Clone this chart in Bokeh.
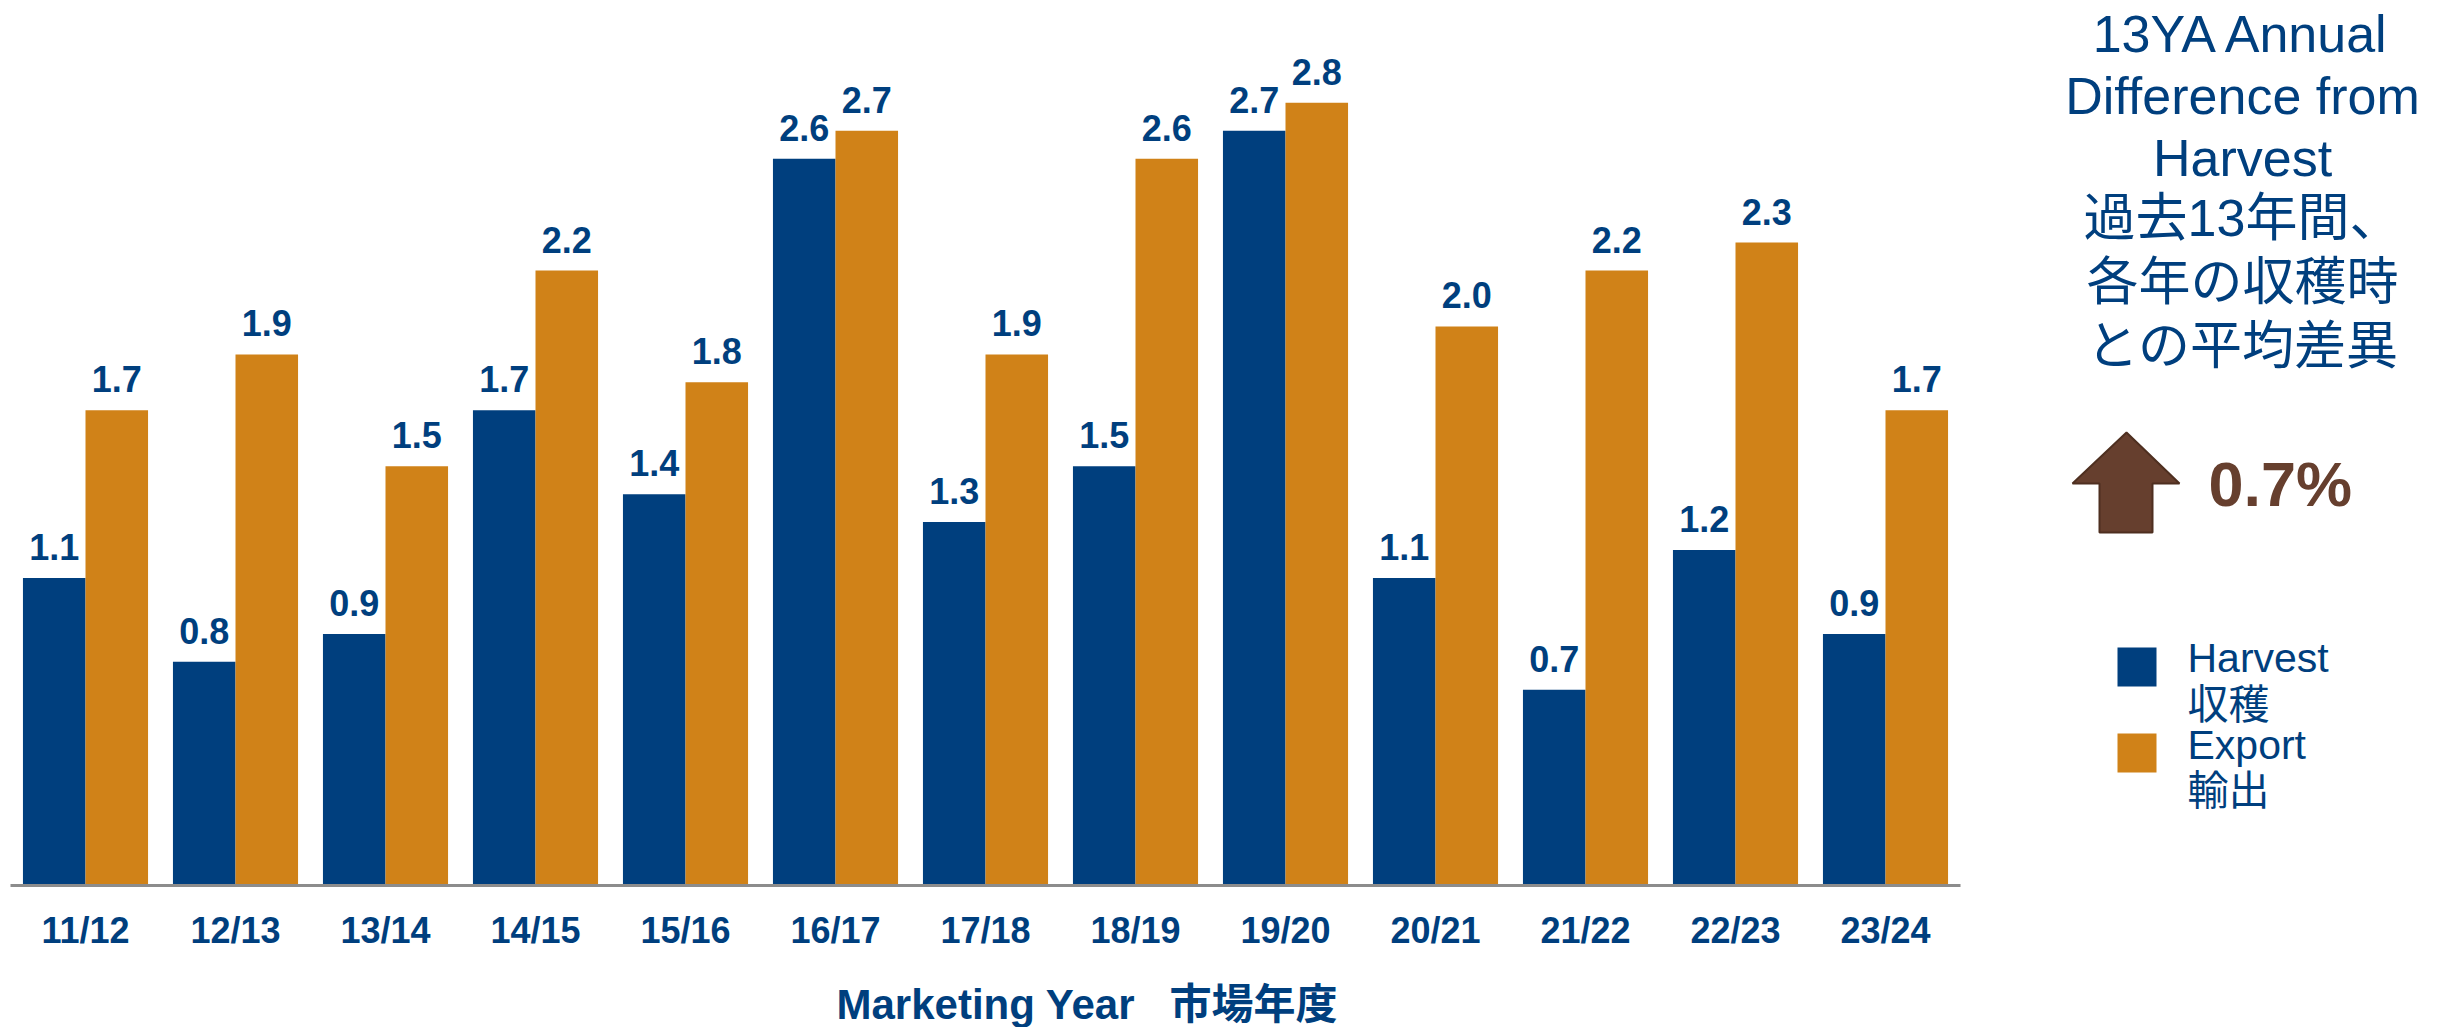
from bokeh.plotting import figure
from bokeh.models import ColumnDataSource, FactorRange, Range1d
from bokeh.transform import dodge
from bokeh.layouts import row, column
from bokeh.embed import file_html
from bokeh.resources import INLINE
from bokeh.core.properties import value

# ---------------- data ----------------
years = ["11/12", "12/13", "13/14", "14/15", "15/16", "16/17", "17/18",
         "18/19", "19/20", "20/21", "21/22", "22/23", "23/24"]
harvest = [1.1, 0.8, 0.9, 1.7, 1.4, 2.6, 1.3, 1.5, 2.7, 1.1, 0.7, 1.2, 0.9]
export = [1.7, 1.9, 1.5, 2.2, 1.8, 2.7, 1.9, 2.6, 2.8, 2.0, 2.2, 2.3, 1.7]
series_en = ["Harvest", "Export"]
series_ja = ["収穫", "輸出"]
axis_title = "Marketing Year\u00a0\u00a0\u00a0市場年度"
note_lines = ["13YA Annual", "Difference from", "Harvest",
              "過去13年間、", "各年の収穫時", "との平均差異"]
avg_diff = 0.7

# ---------------- style ----------------
BLUE = "#003F7E"
ORANGE = "#D08218"
BROWN = "#663F2E"
LAT = "Liberation Sans"
MIX = "Liberation Sans, Noto Sans CJK JP"

TOP_H = 970      # height of the chart row
TITLE_H = 57     # height of the strip holding the x-axis title

src = ColumnDataSource(dict(
    year=years, harvest=harvest, export=export,
    hl=[f"{v:.1f}" for v in harvest],
    el=[f"{v:.1f}" for v in export],
))

p = figure(x_range=FactorRange(factors=years, range_padding=0),
           y_range=Range1d(0, 3.166),
           width=1968, height=TOP_H,
           output_backend="svg", toolbar_location=None,
           y_axis_location=None,
           min_border_left=10, min_border_right=8,
           min_border_top=0, min_border_bottom=85,
           outline_line_color=None)
p.grid.visible = False

bw = 0.417
off = bw / 2
p.vbar(x=dodge("year", -off, range=p.x_range), top="harvest", width=bw,
       source=src, fill_color=BLUE, line_color=None)
p.vbar(x=dodge("year", off, range=p.x_range), top="export", width=bw,
       source=src, fill_color=ORANGE, line_color=None)

for col, lab, d in (("harvest", "hl", -off), ("export", "el", off)):
    p.text(x=dodge("year", d, range=p.x_range), y=col, text=lab,
           source=src, text_align="center", text_baseline="alphabetic",
           y_offset=-31, text_font=value(LAT), text_font_style="bold",
           text_font_size="36px", text_color=BLUE)

ax = p.xaxis[0]
ax.axis_line_color = "#8C8C8C"
ax.axis_line_width = 3
ax.major_tick_line_color = None
ax.minor_tick_line_color = None
ax.major_tick_out = 0
ax.major_label_standoff = 24
ax.major_label_text_font = LAT
ax.major_label_text_font_size = "36px"
ax.major_label_text_font_style = "bold"
ax.major_label_text_color = BLUE

# ---------------- right panel (pixel coordinates) ----------------
p2 = figure(width=474, height=TOP_H,
            x_range=Range1d(0, 474), y_range=Range1d(885, 0),
            output_backend="svg", toolbar_location=None,
            x_axis_location=None, y_axis_location=None,
            min_border_left=0, min_border_right=0,
            min_border_top=0, min_border_bottom=85,
            outline_line_color=None)
p2.grid.visible = False

p2.text(x=[274] * len(note_lines), y=[33, 95, 157, 217, 281, 345],
        text=note_lines, text_align="center", text_baseline="alphabetic",
        text_font=value(MIX), text_font_size="52px", text_color=BLUE)

p2.patch(x=[158, 211, 184, 184, 131, 131, 104],
         y=[432, 483, 483, 532, 532, 483, 483],
         fill_color=BROWN, line_color="#4E2F20", line_width=2)
p2.text(x=[240], y=[483], text=[f"{avg_diff:.1f}%"], text_align="left",
        text_baseline="alphabetic", text_font=value(LAT),
        text_font_style="bold", text_font_size="63px", text_color=BROWN)

p2.rect(x=[168.5, 168.5], y=[666.5, 752.5], width=39, height=39,
        fill_color=[BLUE, ORANGE], line_color=None)
p2.text(x=[219] * 4, y=[657, 704, 744, 790],
        text=[series_en[0], series_ja[0], series_en[1], series_ja[1]],
        text_align="left", text_baseline="alphabetic",
        text_font=value(MIX), text_font_size="41px", text_color=BLUE)

# ---------------- x-axis title strip ----------------
p3 = figure(width=1968, height=TITLE_H,
            x_range=Range1d(0, 1950), y_range=Range1d(TITLE_H, 0),
            output_backend="svg", toolbar_location=None,
            x_axis_location=None, y_axis_location=None,
            min_border_left=10, min_border_right=8,
            min_border_top=0, min_border_bottom=0,
            outline_line_color=None)
p3.grid.visible = False
p3.text(x=[826], y=[34], text=[axis_title], text_align="left",
        text_baseline="alphabetic", text_font=value(MIX),
        text_font_style="bold", text_font_size="42px", text_color=BLUE)

layout = column(row(p, p2), p3)
open("out.html", "w").write(file_html(layout, INLINE))
